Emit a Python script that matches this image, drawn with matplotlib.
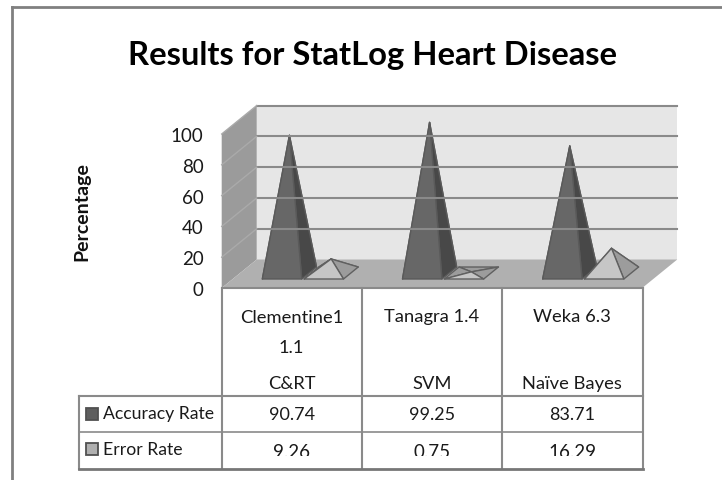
import matplotlib
matplotlib.use('Agg')
from matplotlib import pyplot as plt
from matplotlib.patches import Polygon, Rectangle

plt.rcParams['font.family'] = ['Lato', 'DejaVu Sans']

title = 'Results for StatLog Heart Disease'
y_label = 'Percentage'
y_ticks = [0, 20, 40, 60, 80, 100]
tools = ['Clementine1\n1.1', 'Tanagra 1.4', 'Weka 6.3']
methods = ['C&RT', 'SVM', 'Naïve Bayes']
series_names = ['Accuracy Rate', 'Error Rate']
accuracy = [90.74, 99.25, 83.71]
error = [9.26, 0.75, 16.29]
value_labels = [['90.74', '99.25', '83.71'], ['9.26', '0.75', '16.29']]

# oblique depth of the fake 3d box, in data units
DX = 0.25
DY = 18.5
# the pyramids sit further back than the front plane, so they read a bit shorter
SHRINK = 0.985
LINE = '#8a8a8a'


def project(x, y, d):
    return (x + d * DX, y + d * DY)


def pyramid(ax, x0, value, front, side, edge):
    w = 0.281
    d0, d1 = 0.316, 0.737
    fl = project(x0, 0, d0)
    fr = project(x0 + w, 0, d0)
    br = project(x0 + w, 0, d1)
    bl = project(x0, 0, d1)
    apex = project(x0 + w / 2, value * SHRINK, (d0 + d1) / 2)
    faces = [([bl, br, apex], side), ([fl, bl, apex], side),
             ([fr, br, apex], side), ([fl, fr, apex], front)]
    for pts, color in faces:
        ax.add_patch(Polygon(pts, closed=True, facecolor=color, edgecolor=edge,
                             lw=1.0, joinstyle='round', clip_on=False))


def main():
    fig = plt.figure(figsize=(7.22, 4.81), dpi=100, facecolor='white')

    # chart axes: the front plane of the box
    ax = fig.add_axes([221.7 / 722, (481 - 289) / 481, 420.5 / 722, 154 / 481])
    ax.set_xlim(0, 3)
    ax.set_ylim(0, 100)
    ax.set_xticks([])
    ax.set_yticks(y_ticks)
    ax.tick_params(axis='y', length=0, pad=13, labelsize=13.5, labelcolor='#1a1a1a')
    for s in ax.spines.values():
        s.set_visible(False)
    ax.patch.set_visible(False)

    back = [project(0, 0, 1), project(3, 0, 1), project(3, 100, 1), project(0, 100, 1)]
    left = [project(0, 0, 0), project(0, 0, 1), project(0, 100, 1), project(0, 100, 0)]
    floor = [project(0, 0, 0), project(3, 0, 0), project(3, 0, 1), project(0, 0, 1)]
    ax.add_patch(Polygon(back, facecolor='#e6e6e6', edgecolor='none', clip_on=False))
    ax.add_patch(Polygon(left, facecolor='#9b9b9b', edgecolor='none', clip_on=False))
    ax.add_patch(Polygon(floor, facecolor='#b0b0b0', edgecolor='none', clip_on=False))
    for v in y_ticks[1:]:
        ax.plot(*zip(project(0, v, 1), project(3, v, 1)), color=LINE, lw=1.5, clip_on=False)
        ax.plot(*zip(project(0, v, 0), project(0, v, 1)), color='#aaaaaa', lw=1.0, clip_on=False)

    for i in range(3):
        pyramid(ax, i + 0.211, accuracy[i], '#676767', '#484848', '#5a5a5a')
        pyramid(ax, i + 0.509, error[i], '#c6c6c6', '#9c9c9c', '#606060')

    # overlay in pixels for frame, title and table
    over = fig.add_axes([0, 0, 1, 1])
    over.set_xlim(0, 722)
    over.set_ylim(481, 0)
    over.axis('off')
    over.patch.set_visible(False)

    over.plot([11.5, 722], [8, 8], color='#808080', lw=2)
    over.plot([11.5, 11.5], [8, 481], color='#808080', lw=2)
    over.text(372, 55, title, ha='center', va='center', fontsize=23.6, fontweight='bold', color='black')
    over.text(82, 212, y_label, rotation=90, ha='center', va='center', fontsize=14,
              fontweight='bold', color='#111111')

    cols = [221.7, 361.7, 502.2, 642.5]
    rows = [396.7, 433.3, 470]
    for x in cols:
        over.plot([x, x], [289, rows[-1]], color=LINE, lw=1.5)
    over.plot([221.7, 642.5], [289.3, 289.3], color=LINE, lw=1.5)
    over.plot([79, 79], [rows[0], rows[-1]], color=LINE, lw=1.5)
    over.plot([79, 642.5], [rows[0], rows[0]], color=LINE, lw=1.5)
    over.plot([79, 642.5], [rows[1], rows[1]], color=LINE, lw=1.2)
    over.plot([79, 642.5], [rows[2], rows[2]], color='#777777', lw=2)

    # the second row of values is cut off at the bottom in the original
    clip = Rectangle((0, 0), 722, 457, transform=over.transData)
    for i in range(3):
        cx = (cols[i] + cols[i + 1]) / 2
        if '\n' in tools[i]:
            over.text(cx, 310, tools[i], ha='center', va='top', fontsize=13.2, linespacing=2.05,
                      color='#1a1a1a')
        else:
            over.text(cx, 317.5, tools[i], ha='center', va='center', fontsize=13.2, color='#1a1a1a')
        over.text(cx, 384, methods[i], ha='center', va='center', fontsize=13.2, color='#1a1a1a')
        over.text(cx, 415, value_labels[0][i], ha='center', va='center', fontsize=13, color='#1a1a1a')
        t = over.text(cx, 452.5, value_labels[1][i], ha='center', va='center', fontsize=13.5, color='#1a1a1a')
        t.set_clip_path(clip)
        t.set_clip_on(True)

    key_faces = ['#5e5e5e', '#b0b0b0']
    for name, y, fc in zip(series_names, [414.5, 450], key_faces):
        over.add_patch(Rectangle((86, y - 6), 12, 12, facecolor=fc, edgecolor='#505050', lw=1.3))
        over.text(103, y, name, ha='left', va='center', fontsize=12.7, color='#1a1a1a')

    fig.savefig('out.png', dpi=100)


if __name__ == "__main__":
    main()
